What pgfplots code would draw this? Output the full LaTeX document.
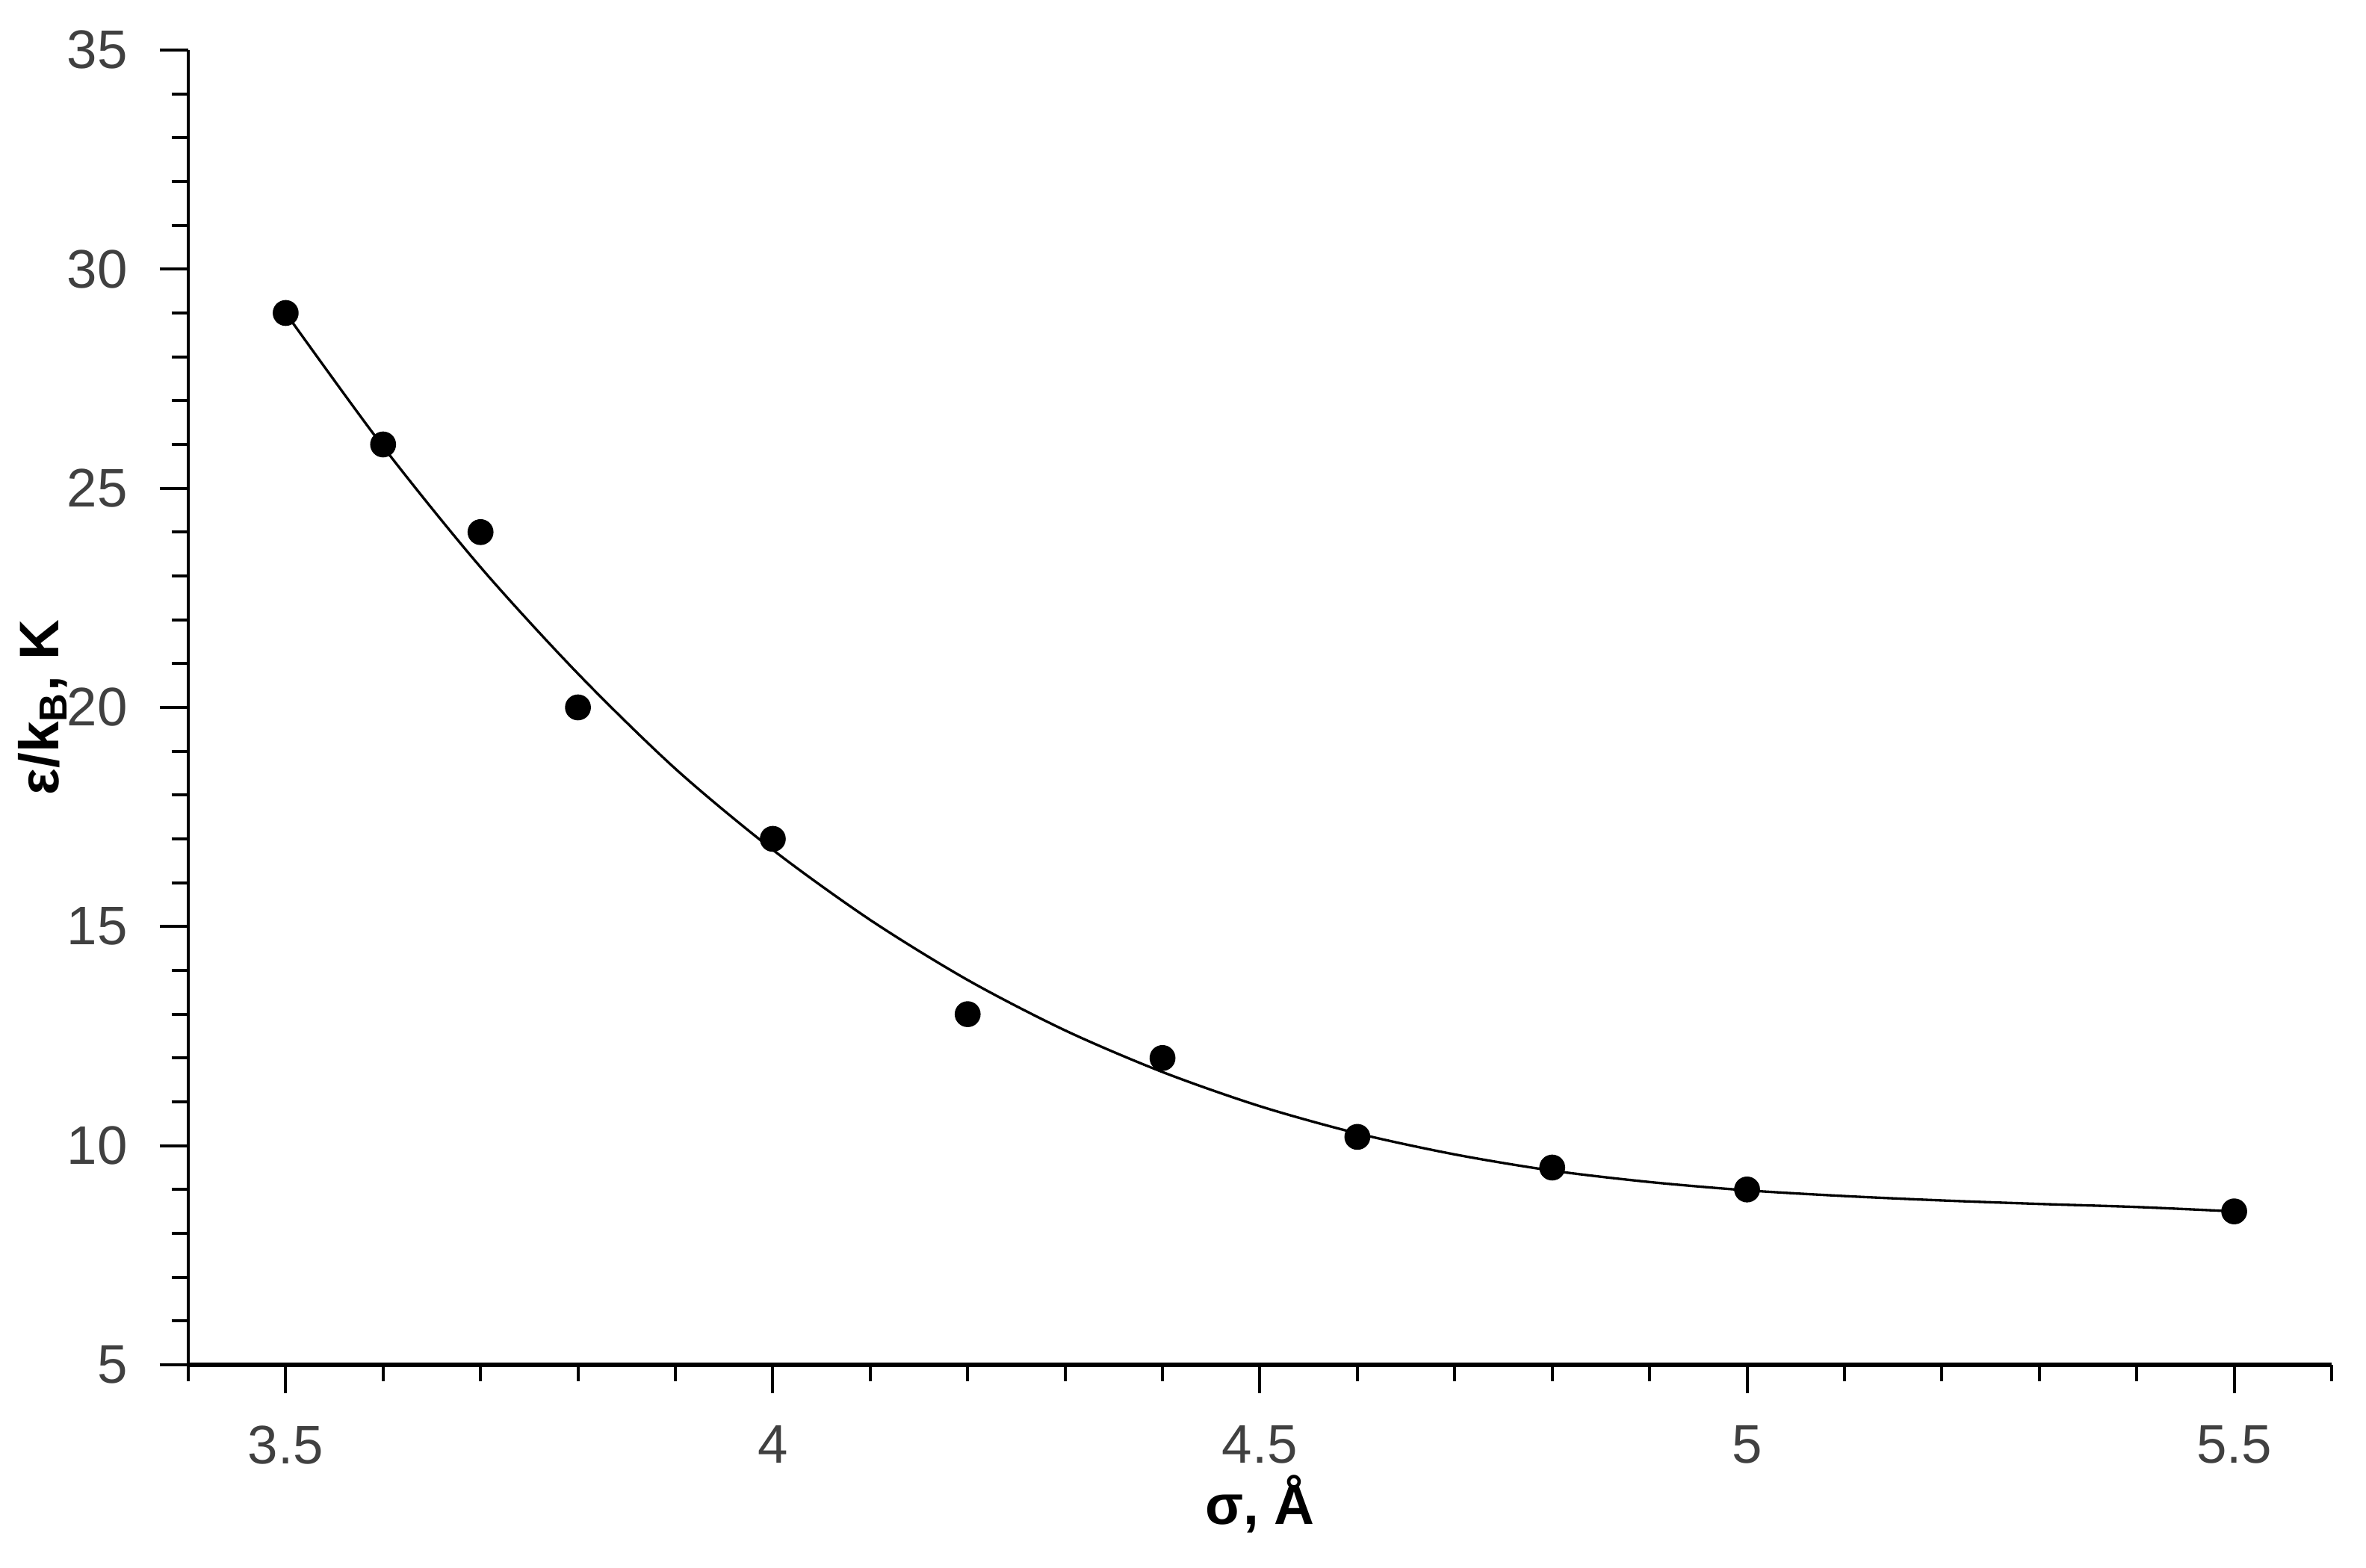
\documentclass[border=0pt]{standalone}
\usepackage{pgfplots}
\pgfplotsset{compat=1.18}
\usepackage{fontspec}
\setmainfont{Liberation Sans}
\definecolor{tickgray}{HTML}{404040}

\begin{document}
\begin{tikzpicture}
    \begin{axis}[
        scale only axis,
        width=430.35pt,height=264pt,
        xmin=3.4,xmax=5.6,ymin=5,ymax=35,
        axis x line*=bottom,axis y line*=left,
        x axis line style={line width=0.8pt},
        y axis line style={line width=0.6pt},
        xtick={3.5,4,4.5,5,5.5},
        ytick={5,10,15,20,25,30,35},
        minor xtick={3.4,3.5,...,5.61},
        minor ytick={5,6,...,35},
        tick align=outside,
        major tick length=5.7pt,minor tick length=3.3pt,
        every tick/.style={black,line width=0.6pt},
        /pgf/number format/assume math mode=true,
        ticklabel style={font=\fontsize{10.9}{12}\selectfont,text=tickgray},
        xticklabel style={yshift=-3pt},
        yticklabel style={xshift=-3pt},
        xlabel={\textbf{σ, Å}},
        ylabel={\textbf{ε/k\textsubscript{B}, K}},
        xlabel shift=-4.6pt,
        ylabel shift=-7pt,
        label style={font=\fontsize{11.2}{12}\selectfont},
        clip=false
    ]
        % fitted curve
        \addplot[black,line width=0.5pt,smooth,tension=0.5] coordinates{
            (3.5,29.0)(3.6,25.95)(3.7,23.2)(3.8,20.77)(3.9,18.6)(4.0,16.75)
            (4.1,15.15)(4.2,13.78)(4.3,12.63)(4.4,11.68)(4.5,10.9)(4.6,10.28)
            (4.7,9.8)(4.8,9.43)(4.9,9.17)(5.0,8.98)(5.1,8.85)(5.2,8.75)
            (5.3,8.67)(5.4,8.6)(5.5,8.5)};
        % measured points
        \addplot[only marks,mark=*,mark size=2.4pt,black] coordinates{
            (3.5,29)(3.6,26)(3.7,24)(3.8,20)(4.0,17)(4.2,13)
            (4.4,12)(4.6,10.2)(4.8,9.5)(5.0,9.0)(5.5,8.5)};
    \end{axis}
    \pgfresetboundingbox
    \path[use as bounding box] (-37.8pt,-40.8pt) rectangle (437.25pt,274.05pt);
\end{tikzpicture}
\end{document}
